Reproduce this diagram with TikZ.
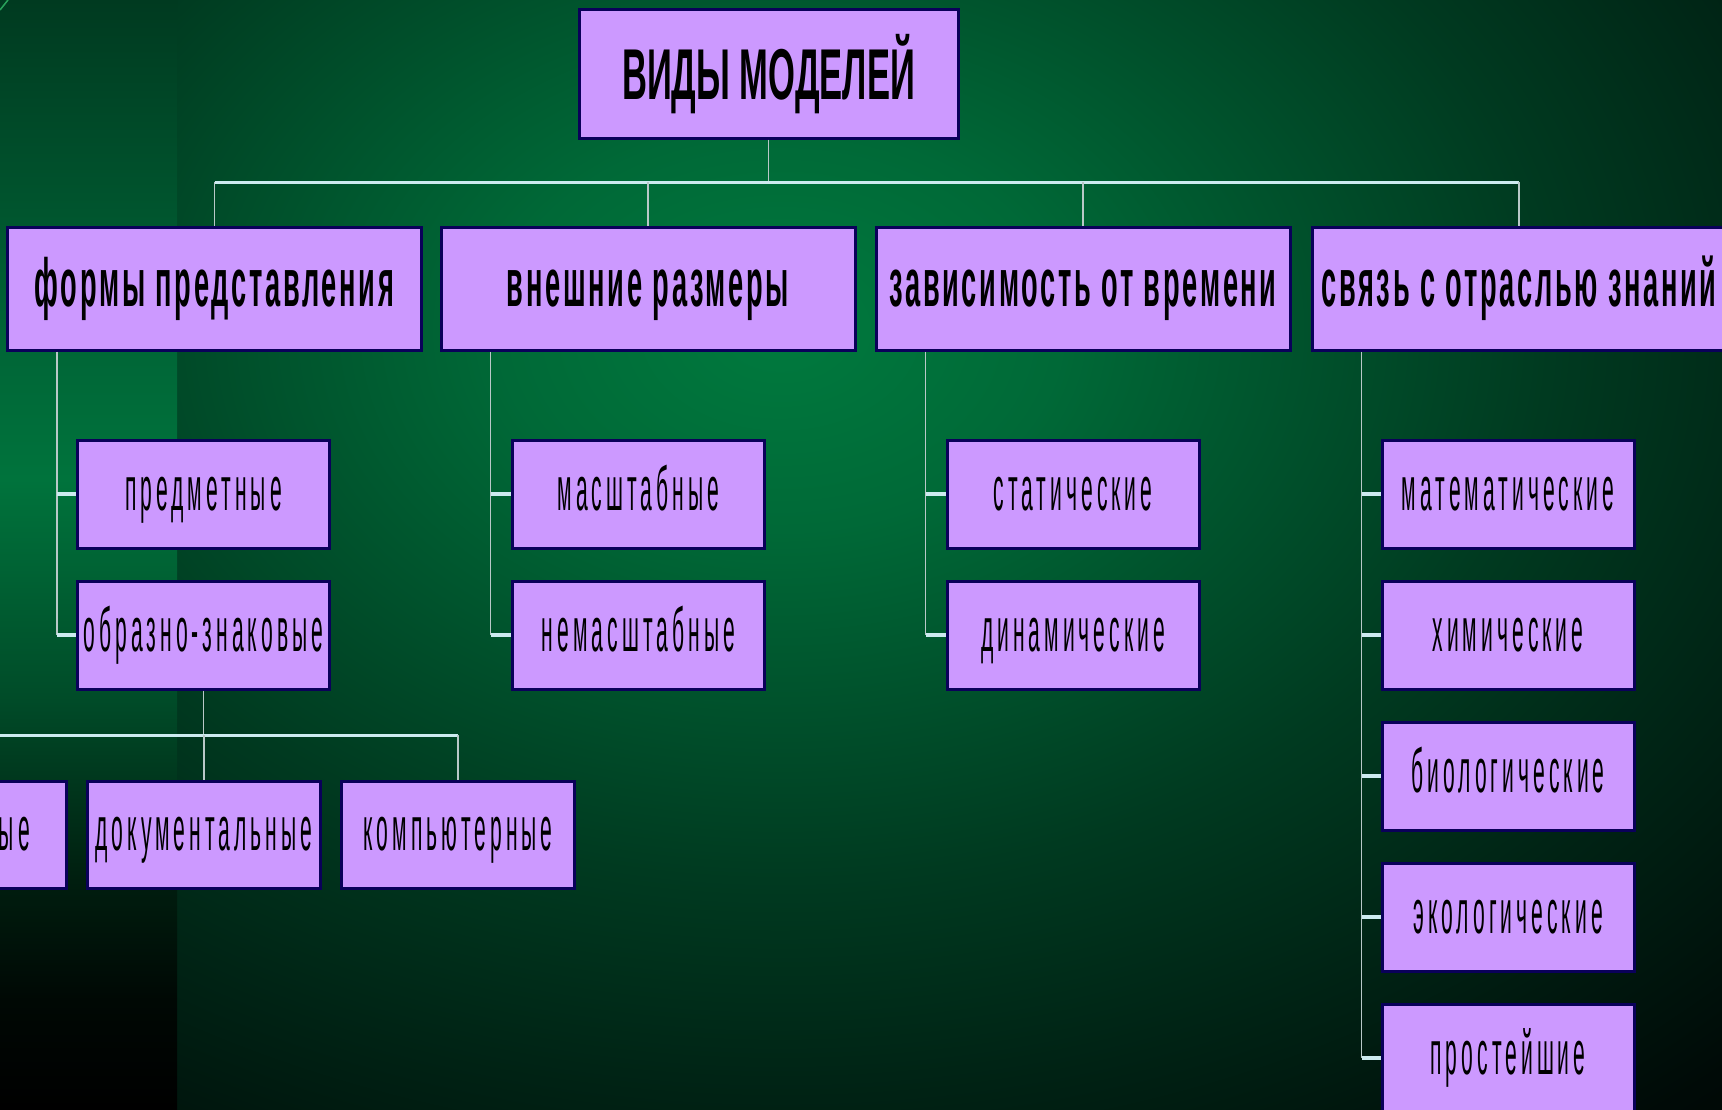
\documentclass[tikz,border=0pt]{standalone}
\usepackage{fontspec}
\newfontfamily\ftitle[FakeStretch=0.48]{Liberation Sans Bold}
\newfontfamily\fmid[FakeStretch=0.40,LetterSpace=4]{Liberation Sans Bold}
\newfontfamily\fsub[FakeStretch=0.34,LetterSpace=6.5]{Liberation Sans}
\definecolor{boxfill}{RGB}{204,153,255}
\definecolor{boxline}{RGB}{10,0,90}
\definecolor{linec}{RGB}{205,235,240}
\definecolor{linev}{RGB}{185,200,200}
\definecolor{leafc}{RGB}{40,160,90}
\definecolor{g0}{RGB}{0,122,62}
\definecolor{g1}{RGB}{0,105,55}
\definecolor{g2}{RGB}{0,78,42}
\definecolor{g3}{RGB}{0,58,32}
\definecolor{g4}{RGB}{0,36,21}
\definecolor{g5}{RGB}{0,10,7}
\definecolor{g6}{RGB}{0,0,0}
\definecolor{s0}{RGB}{0,0,0}
\definecolor{s1}{RGB}{0,8,4}
\definecolor{s2}{RGB}{0,30,15}
\definecolor{s3}{RGB}{0,75,40}
\definecolor{s4}{RGB}{0,115,60}
\definecolor{s5}{RGB}{0,100,54}
\definecolor{s6}{RGB}{0,58,32}
% \shade fits the middle 50bp x 50bp of a shading to the path
\pgfdeclareradialshading{glow}{\pgfpoint{0bp}{0bp}}{color(0bp)=(g0); color(2.5bp)=(g1); color(5bp)=(g2); color(6.875bp)=(g3); color(9.375bp)=(g4); color(12.5bp)=(g5); color(15bp)=(g6); color(50bp)=(g6)}
\pgfdeclareverticalshading{strip}{100bp}{color(0bp)=(s0); color(25bp)=(s0); color(29.9bp)=(s1); color(35.3bp)=(s2); color(43.4bp)=(s3); color(53.4bp)=(s4); color(60.1bp)=(s5); color(75bp)=(s6); color(100bp)=(s6)}
\tikzset{
  box/.style={draw=boxline, line width=3pt, fill=boxfill, inner sep=0pt, text=black},
  topbox/.style={box, minimum width=379pt, minimum height=129pt, font=\ftitle\fontsize{72pt}{72pt}\selectfont, text height=52pt, text depth=0pt},
  lone/.style={box, minimum width=414pt, minimum height=123pt, font=\fmid\fontsize{68pt}{68pt}\selectfont, text height=35pt, text depth=0pt},
  ltwo/.style={box, minimum width=252pt, minimum height=108pt, font=\fsub\fontsize{62pt}{62pt}\selectfont, text height=32pt, text depth=0pt},
  lthree/.style={box, minimum width=233pt, minimum height=107pt, font=\fsub\fontsize{62pt}{62pt}\selectfont, text height=32pt, text depth=0pt},
  subtxt/.style={inner sep=0pt, font=\fsub\fontsize{62pt}{62pt}\selectfont, text height=32pt, text depth=0pt},
  hline/.style={draw=linec, line width=3pt},
  vline/.style={draw=linev, line width=1.5pt},
  tickline/.style={draw=linec, line width=3.5pt}
}
\begin{document}
\begin{tikzpicture}[x=1pt,y=-1pt]
\useasboundingbox (0,0) rectangle (1722,1109);
\clip (0,0) rectangle (1722,1109);
% background
\fill[black] (0,0) rectangle (1722,1109);
\begin{scope}
  \clip (177,0) rectangle (1722,1109);
  \shade[shading=glow] (780,330) ellipse [x radius=2800, y radius=2000];
\end{scope}
\shade[shading=strip] (0,0) rectangle (177,1109);
\draw[leafc, line width=1.5pt] (0,10) -- (8,0);

% nodes
\node[topbox] (top) at (768.5,73.5) {ВИДЫ МОДЕЛЕЙ};
\node[lone] (f1) at (214.5,288.5) {формы представления};
\node[lone] (f2) at (648,288.5) {внешние размеры};
\node[lone] (f3) at (1083,288.5) {зависимость от времени};
\node[lone] (f4) at (1519,288.5) {связь с отраслью знаний};

\node[ltwo] (c11) at (203.5,494) {предметные};
\node[ltwo] (c12) at (203.5,635) {образно-знаковые};
\node[ltwo] (c21) at (638.5,494) {масштабные};
\node[ltwo] (c22) at (638.5,635) {немасштабные};
\node[ltwo] (c31) at (1073,494) {статические};
\node[ltwo] (c32) at (1073,635) {динамические};
\node[ltwo] (c41) at (1508,494) {математические};
\node[ltwo] (c42) at (1508,635) {химические};
\node[ltwo] (c43) at (1508,776) {биологические};
\node[ltwo] (c44) at (1508,917) {экологические};
\node[ltwo] (c45) at (1508,1058) {простейшие};

\node[lthree] (lb) at (-50,834.5) {};
\node[subtxt, anchor=east] (lbt) at (30,834.5) {ые};
\node[lthree] (dk) at (204,834.5) {документальные};
\node[lthree] (km) at (458,834.5) {компьютерные};

% connectors
\coordinate (bus) at (0,182);
\draw[vline] (top.south) -- (top.south |- bus);
\draw[hline] (f1.north |- bus) -- (f4.north |- bus);
\foreach \n in {f1,f2,f3,f4} \draw[vline] (\n.north |- bus) -- (\n.north);

\coordinate (sp1) at ([xshift=51pt]f1.south west);
\coordinate (sp2) at ([xshift=51pt]f2.south west);
\coordinate (sp3) at ([xshift=51pt]f3.south west);
\coordinate (sp4) at ([xshift=51pt]f4.south west);
\draw[vline] (sp1) -- (sp1 |- c12.west);
\draw[vline] (sp2) -- (sp2 |- c22.west);
\draw[vline] (sp3) -- (sp3 |- c32.west);
\draw[vline] (sp4) -- (sp4 |- c45.west);
\foreach \c in {c11,c12} \draw[tickline] (sp1 |- \c.west) -- (\c.west);
\foreach \c in {c21,c22} \draw[tickline] (sp2 |- \c.west) -- (\c.west);
\foreach \c in {c31,c32} \draw[tickline] (sp3 |- \c.west) -- (\c.west);
\foreach \c in {c41,c42,c43,c44,c45} \draw[tickline] (sp4 |- \c.west) -- (\c.west);

\coordinate (bus3) at (0,735);
\draw[vline] (c12.south) -- (c12.south |- bus3);
\draw[hline] (lb.north |- bus3) -- (km.north |- bus3);
\foreach \n in {lb,dk,km} \draw[vline] (\n.north |- bus3) -- (\n.north);
\end{tikzpicture}
\end{document}
